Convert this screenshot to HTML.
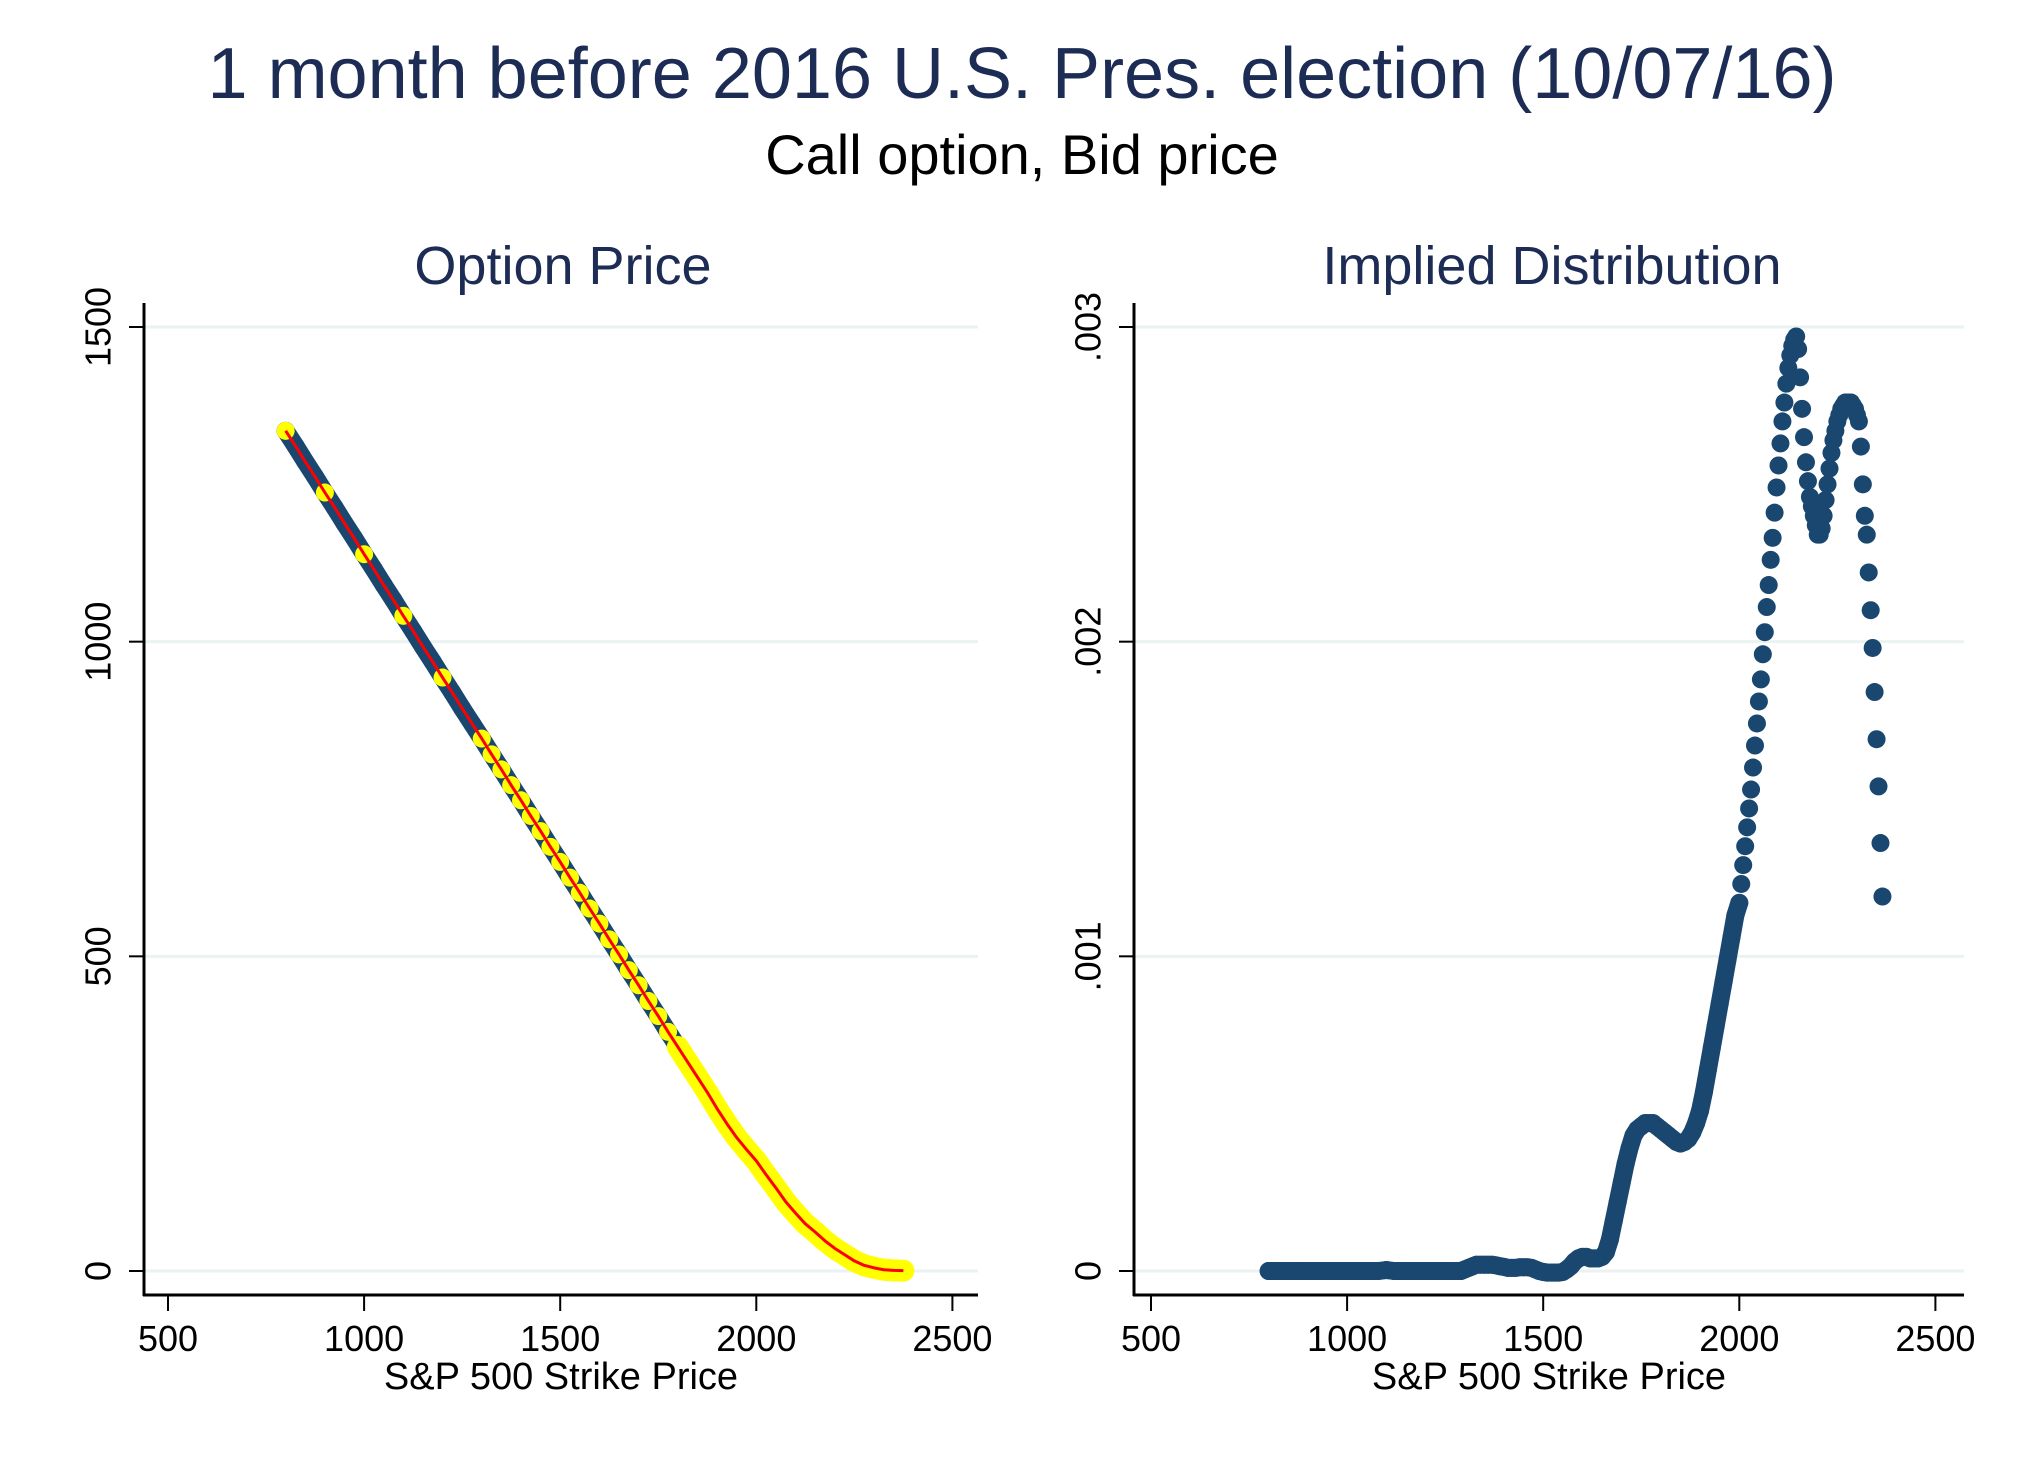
<!DOCTYPE html>
<html><head><meta charset="utf-8"><style>
html,body{margin:0;padding:0;background:#fff;}
svg{display:block;font-family:"Liberation Sans",Arial,sans-serif;}
</style></head><body>
<svg id="fig" width="2033" height="1478" viewBox="0 0 2033 1478" xmlns="http://www.w3.org/2000/svg">
<rect x="0" y="0" width="2033" height="1478" fill="#fff"/>
<text x="1022" y="98" text-anchor="middle" font-size="72" fill="#1c2c55">1 month before 2016 U.S. Pres. election (10/07/16)</text>
<text x="1022" y="174" text-anchor="middle" font-size="56" fill="#000">Call option, Bid price</text>
<text x="563" y="284" text-anchor="middle" font-size="54" fill="#1c2c55">Option Price</text>
<text x="1552" y="284" text-anchor="middle" font-size="54" fill="#1c2c55">Implied Distribution</text>
<g id="left"></g>
<g id="right"></g>
</svg>
<script>
const xTicks = [500, 1000, 1500, 2000, 2500];
const priceTicks = [0, 500, 1000, 1500];
const priceTickLabels = ["0", "500", "1000", "1500"];
const densTicks = [0, 0.001, 0.002, 0.003];
const densTickLabels = ["0", ".001", ".002", ".003"];

const priceStrikes = [800,825,850,875,900,925,950,975,1000,1025,1050,1075,1100,1125,1150,1175,1200,1225,1250,1275,1300,1325,1350,1375,1400,1425,1450,1475,1500,1525,1550,1575,1600,1625,1650,1675,1700,1725,1750,1775,1800,1825,1850,1875,1900,1925,1950,1975,2000,2025,2050,2075,2100,2125,2150,2175,2200,2225,2250,2275,2300,2325,2350,2375];
const prices = [1335,1311,1286,1262,1237,1213,1188,1164,1139,1115,1090,1066,1041,1017,992,968,943,919,894,870,846,821,797,772,748,723,699,674,650,625,601,576,552,527,503,478,454,429,405,380,356,332,308,284,258,234,212,193,175,153,132,110,92,75,62,48,36,26,16,9,5,2,1,0.5];
const bidStrikes = [800,900,1000,1100,1200,1300,1325,1350,1375,1400,1425,1450,1475,1500,1525,1550,1575,1600,1625,1650,1675,1700,1725,1750,1775,1800,1825,1850,1875,1900,1925,1950,1975,2000,2025,2050,2075,2100,2125,2150,2175,2200,2225,2250,2275,2300,2325,2350,2375];
const denseBidFrom = 1800;

const densStrikes = [800,820,840,860,880,900,920,940,960,980,1000,1020,1040,1060,1080,1100,1120,1140,1160,1180,1200,1220,1240,1260,1280,
1290,1300,1310,1320,1330,1340,1350,1360,1370,1380,1390,1400,1410,1420,1430,1440,1450,1460,1470,1480,1490,1500,1510,1520,1530,1540,1550,1560,1570,1580,1590,1600,1610,1620,1630,1640,1650,1660,1670,1680,1690,1700,1710,1720,1730,1740,1750,1760,1770,1780,1790,1800,1810,1820,1830,1840,1850,1860,1870,1880,1890,1900,1910,1920,1930,1940,1950,1960,1970,1980,1990,
2000,2005,2010,2015,2020,2025,2030,2035,2040,2045,2050,2055,2060,2065,2070,2075,2080,2085,2090,2095,2100,2105,2110,2115,2120,2125,2130,2135,2140,2145,2150,2155,2160,2165,2170,2175,2180,2185,2190,2195,2200,2205,2210,2215,2220,2225,2230,2235,2240,2245,2250,2255,2260,2265,2270,2275,2280,2285,2290,2295,2300,2305,2310,2315,2320,2325,2330,2335,2340,2345,2350,2355,2360,2365];
const density = [0,0,0,0,0,0,0,0,0,0,0,0,0,0,0,0.000003,0,0,0,0,0,0,0,0,0,
0,0.000005,0.00001,0.000015,0.00002,0.00002,0.00002,0.00002,0.00002,0.000018,0.000015,0.000013,0.00001,0.00001,0.00001,0.000012,0.000012,0.000012,0.00001,0.000005,0,-0.000003,-0.000005,-0.000005,-0.000005,-0.000005,-0.000003,0.000005,0.000015,0.00003,0.00004,0.000045,0.000045,0.00004,0.00004,0.00004,0.000045,0.00006,0.0001,0.00016,0.00022,0.00028,0.00034,0.00039,0.00043,0.00045,0.00046,0.00047,0.00047,0.00047,0.00046,0.00045,0.00044,0.00043,0.00042,0.00041,0.000405,0.00041,0.00042,0.00044,0.00047,0.00051,0.00057,0.00064,0.00071,0.00078,0.00085,0.00092,0.00099,0.00106,0.00113,
0.00117,0.00123,0.00129,0.00135,0.00141,0.00147,0.00153,0.0016,0.00167,0.00174,
0.00181,0.00188,0.00196,0.00203,0.00211,0.00218,0.00226,0.00233,0.00241,0.00249,
0.00256,0.00263,0.0027,0.00276,0.00282,0.00287,0.00291,0.00294,0.00296,0.00297,
0.00293,0.00284,0.00274,0.00265,0.00257,0.00251,0.00246,0.00243,0.0024,0.00237,
0.00234,0.00234,0.00236,0.0024,0.00245,0.0025,0.00255,0.0026,0.00264,0.00267,
0.0027,0.00272,0.00274,0.00275,0.00276,0.00276,0.00276,0.00276,0.00275,0.00274,
0.00272,0.0027,0.00262,0.0025,0.0024,0.00234,0.00222,0.0021,0.00198,0.00184,0.00169,0.00154,0.00136,0.00119];
const densBandBelow = 2000;

const NS = "http://www.w3.org/2000/svg";
const NAVY = "#1a476f";
function mk(parent, tag, attrs) {
  const e = document.createElementNS(NS, tag);
  for (const k in attrs) e.setAttribute(k, attrs[k]);
  parent.appendChild(e);
  return e;
}
function xScale(off) { return v => off + 168 + (v - 500) * 0.3922; }
const Y0 = 1271, Y1 = 327;
function yScale(max) { return v => Y0 - v / max * (Y0 - Y1); }

function drawAxes(g, axisX, rightX, xs, ys, yTicks, yLabels) {
  yTicks.forEach((t, i) => {
    const gl = mk(g, "line", {x1: axisX, x2: rightX, y1: ys(t), y2: ys(t), stroke: "#eaf2f3", "stroke-width": 3});
    
    
    const tk = mk(g, "line", {x1: axisX - 15, x2: axisX, y1: ys(t), y2: ys(t), stroke: "#000", "stroke-width": 2});
    
    
    const lx = axisX - 46, ly = ys(t);
    const tl = mk(g, "text", {x: lx, y: ly, "text-anchor": "middle", "dominant-baseline": "central", "font-size": 36, fill: "#000", transform: `rotate(-90 ${lx} ${ly})`});
    tl.textContent = yLabels[i];
    
    
  });
  const ya = mk(g, "line", {x1: axisX, x2: axisX, y1: 303, y2: 1296, stroke: "#000", "stroke-width": 3});
  
  
  const xa = mk(g, "line", {x1: axisX - 1, x2: rightX, y1: 1295, y2: 1295, stroke: "#000", "stroke-width": 3});
  
  
  xTicks.forEach(t => {
    const tk = mk(g, "line", {x1: xs(t), x2: xs(t), y1: 1295, y2: 1311, stroke: "#000", "stroke-width": 2});
    
    
    const tl = mk(g, "text", {x: xs(t), y: 1351, "text-anchor": "middle", "font-size": 36, fill: "#000"});
    tl.textContent = String(t);
    
    
  });
  const at = mk(g, "text", {x: (axisX + rightX) / 2, y: 1389, "text-anchor": "middle", "font-size": 38, fill: "#000"});
  at.textContent = "S&P 500 Strike Price";
  
  
}

// Left panel
(function () {
  const g = document.getElementById("left");
  const xs = xScale(0), ys = yScale(1500);
  drawAxes(g, 144, 978, xs, ys, priceTicks, priceTickLabels);
  const pts = priceStrikes.map((k, i) => xs(k) + "," + ys(prices[i])).join(" ");
  const band = mk(g, "polyline", {points: pts, fill: "none", stroke: NAVY, "stroke-width": 18, "stroke-linejoin": "round", "stroke-linecap": "round"});
  
  
  priceStrikes.forEach((k, i) => {
    const c = mk(g, "circle", {cx: xs(k), cy: ys(prices[i]), r: 9, fill: NAVY});
    
    
  });
  function interp(k) {
    for (let i = 0; i < priceStrikes.length - 1; i++) {
      if (k >= priceStrikes[i] && k <= priceStrikes[i + 1]) {
        const t = (k - priceStrikes[i]) / (priceStrikes[i + 1] - priceStrikes[i]);
        return prices[i] + t * (prices[i + 1] - prices[i]);
      }
    }
    return prices[prices.length - 1];
  }
  const dense = bidStrikes.filter(k => k >= denseBidFrom);
  const dpts = dense.map(k => xs(k) + "," + ys(interp(k))).join(" ");
  const yb = mk(g, "polyline", {points: dpts, fill: "none", stroke: "#ffff00", "stroke-width": 22, "stroke-linejoin": "round", "stroke-linecap": "round"});
  
  
  bidStrikes.forEach(k => {
    const c = mk(g, "circle", {cx: xs(k), cy: ys(interp(k)), r: 9, fill: "#ffff00"});
    
    
  });
  const red = mk(g, "polyline", {points: pts, fill: "none", stroke: "#ff0000", "stroke-width": 3, "stroke-linejoin": "round"});
  
  
})();

// Right panel
(function () {
  const g = document.getElementById("right");
  const xs = xScale(983), ys = yScale(0.003);
  drawAxes(g, 1134, 1964, xs, ys, densTicks, densTickLabels);
  const lowPts = [];
  densStrikes.forEach((k, i) => { if (k <= densBandBelow) lowPts.push(xs(k) + "," + ys(density[i])); });
  const band = mk(g, "polyline", {points: lowPts.join(" "), fill: "none", stroke: NAVY, "stroke-width": 18, "stroke-linejoin": "round", "stroke-linecap": "round"});
  
  
  densStrikes.forEach((k, i) => {
    const c = mk(g, "circle", {cx: xs(k), cy: ys(density[i]), r: 9, fill: NAVY});
    
    
  });
})();
</script>
</body></html>
